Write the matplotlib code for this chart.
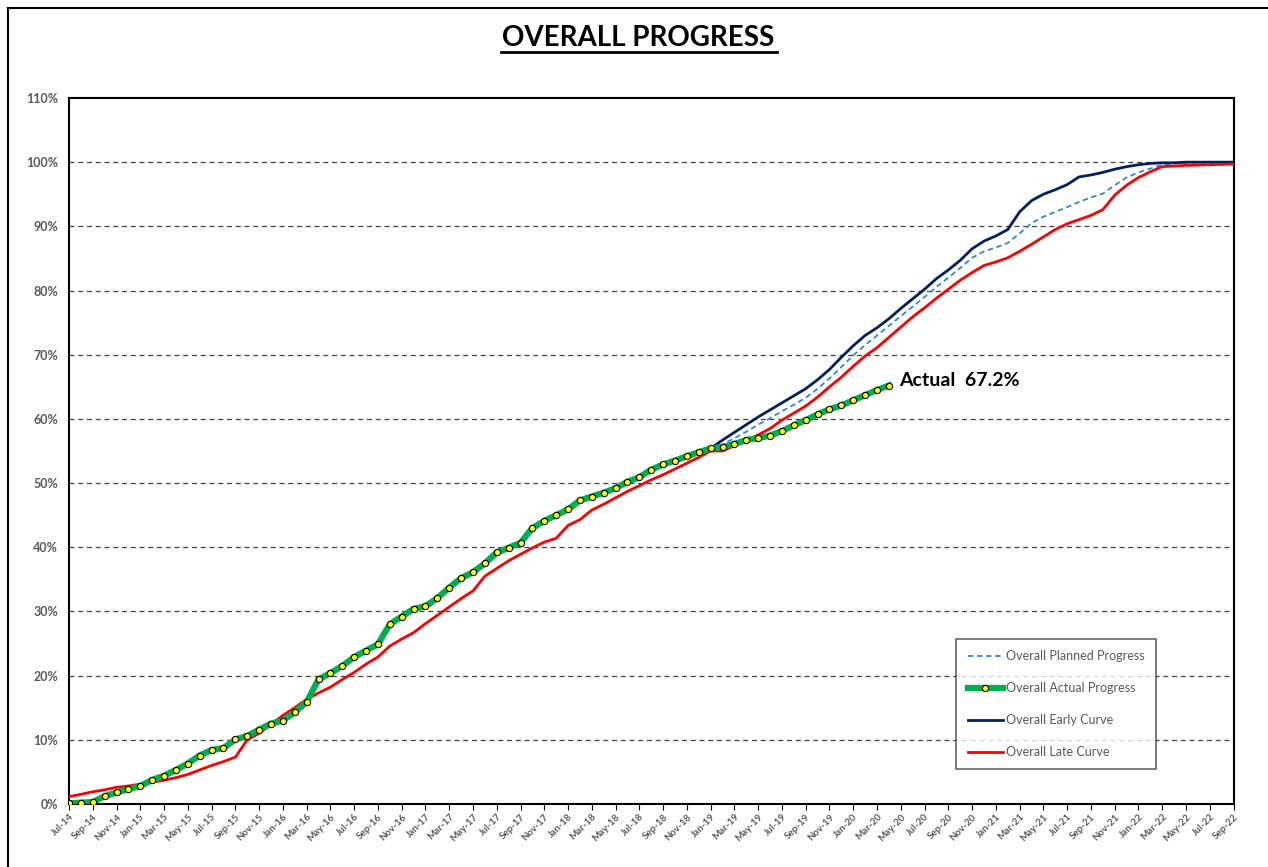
import numpy as np
import pandas as pd
import matplotlib
matplotlib.use("Agg")
import matplotlib.pyplot as plt
from matplotlib.lines import Line2D

plt.rcParams['font.family'] = ['Lato', 'DejaVu Sans']

# monthly axis Jul-14 .. Sep-22
months = pd.date_range("2014-07-01", "2022-09-01", freq="MS")
month_labels = [d.strftime("%b-%y") for d in months]

# overall actual progress (%), Jul-14 .. Apr-20
actual = [0.1, 0.2, 0.3, 1.2, 1.8, 2.3, 2.8, 3.75, 4.4, 5.3,
          6.3, 7.55, 8.4, 8.7, 10.05, 10.6, 11.6, 12.5, 13.0, 14.3,
          15.9, 19.4, 20.4, 21.5, 22.9, 23.9, 24.9, 28.0, 29.2, 30.4,
          30.8, 32.1, 33.7, 35.2, 36.1, 37.5, 39.2, 39.9, 40.7, 43.0,
          44.1, 45.0, 45.9, 47.3, 47.9, 48.5, 49.2, 50.2, 50.9, 52.1,
          52.9, 53.5, 54.2, 54.8, 55.4, 55.6, 56.1, 56.7, 57.0, 57.4,
          58.1, 59.0, 59.8, 60.7, 61.5, 62.1, 62.9, 63.7, 64.5, 65.2]

# late curve (%), Jul-14 .. Sep-22
late = [1.15, 1.5, 1.9, 2.2, 2.6, 2.8, 3.1, 3.4, 3.7, 4.1,
        4.6, 5.3, 6.0, 6.6, 7.3, 10.0, 11.0, 12.4, 13.8, 15.0,
        16.3, 17.3, 18.2, 19.4, 20.5, 21.8, 22.9, 24.6, 25.7, 26.7,
        28.1, 29.4, 30.7, 32.0, 33.2, 35.5, 36.7, 37.9, 38.9, 39.9,
        40.8, 41.4, 43.4, 44.3, 45.8, 46.7, 47.7, 48.7, 49.6, 50.5,
        51.3, 52.2, 53.1, 54.0, 55.0, 55.0, 55.8, 56.6, 57.5, 58.5,
        59.8, 60.9, 62.0, 63.4, 65.0, 66.5, 68.2, 69.8, 71.1, 72.7,
        74.3, 75.9, 77.3, 78.8, 80.2, 81.6, 82.8, 83.9, 84.45, 85.1,
        86.1, 87.2, 88.35, 89.5, 90.4, 91.05, 91.7, 92.6, 94.85, 96.4,
        97.6, 98.5, 99.3, 99.4, 99.5, 99.55, 99.6, 99.65, 99.7]

# early and planned curves (%), Jan-19 .. Sep-22
forecast_start = 54
early = [55.4, 56.7, 57.9, 59.1, 60.3, 61.4, 62.5, 63.6, 64.7, 66.1,
         67.7, 69.6, 71.4, 73.0, 74.2, 75.6, 77.2, 78.7, 80.2, 81.85,
         83.2, 84.7, 86.5, 87.7, 88.5, 89.5, 92.25, 94.0, 95.0, 95.7,
         96.5, 97.7, 98.0, 98.4, 98.9, 99.3, 99.6, 99.8, 99.9, 99.9,
         100.0, 100.0, 100.0, 100.0, 100.0]
planned = [55.4, 56.0, 57.0, 58.0, 59.1, 60.1, 61.2, 62.2, 63.3, 64.7,
           66.3, 68.1, 69.9, 71.5, 73.0, 74.5, 76.0, 77.5, 79.0, 80.55,
           82.0, 83.5, 85.1, 86.1, 86.7, 87.4, 88.9, 90.5, 91.5, 92.25,
           93.0, 93.8, 94.5, 95.1, 96.4, 97.6, 98.4, 99.0, 99.6, 99.8,
           99.9, 99.9, 99.9, 99.9, 99.9]

actual_label = "Actual  67.2%"

x_all = np.arange(len(months))
x_act = x_all[:len(actual)]
x_fc = x_all[forecast_start:forecast_start + len(early)]

fig = plt.figure(figsize=(12.68, 8.67), dpi=100)
ax = fig.add_axes([0.0544, 0.0727, 0.9184, 0.8143])

# outer frame (left and top edges)
fig.add_artist(Line2D([8 / 1268, 8 / 1268], [0, 1 - 8 / 867], transform=fig.transFigure,
                      color="black", lw=1.5))
fig.add_artist(Line2D([8 / 1268, 1], [1 - 8 / 867, 1 - 8 / 867], transform=fig.transFigure,
                      color="black", lw=1.5))

ax.plot(x_fc, planned, color="#2e86d6", lw=1.3, ls=(0, (3, 2)), label="Overall Planned Progress", zorder=3)
ax.plot(x_act, actual, color="#00b050", lw=4.5, marker="o", markersize=4.5,
        markerfacecolor="#ffff00", markeredgecolor="black", markeredgewidth=0.8,
        label="Overall Actual Progress", zorder=5)
ax.plot(x_fc, early, color="#002060", lw=2.0, label="Overall Early Curve", zorder=4)
ax.plot(x_all, late, color="#ff0000", lw=2.0, label="Overall Late Curve", zorder=4)

ax.text(x_act[-1] + 0.9, actual[-1] + 0.8, actual_label, fontsize=14, fontweight="bold",
        va="center", ha="left", color="black")

ax.set_xlim(0, len(months) - 1)
ax.set_ylim(0, 110)
ax.set_yticks(np.arange(0, 111, 10))
ax.set_yticklabels([f"{v}%" for v in range(0, 111, 10)], fontsize=9, color="#595959", fontweight="bold")
ax.set_xticks(x_all[::2])
ax.set_xticklabels(month_labels[::2], rotation=45, ha="right", rotation_mode="anchor",
                   fontsize=7, color="#595959", fontweight="bold")
ax.tick_params(axis="x", length=4, color="black", pad=2)
ax.tick_params(axis="y", length=0, pad=8)

for v in range(10, 110, 10):
    ax.axhline(v, color="#404040", lw=0.9, ls=(0, (4, 3)), zorder=1)

for s in ax.spines.values():
    s.set_linewidth(1.5)
    s.set_color("black")

fig.text(0.503, 0.956, "OVERALL PROGRESS", fontsize=20, fontweight="bold",
         ha="center", va="center", color="black")
fig.add_artist(Line2D([501 / 1268, 777 / 1268], [1 - 52 / 867, 1 - 52 / 867],
                      transform=fig.transFigure, color="black", lw=2))

leg = ax.legend(loc="upper left", bbox_to_anchor=(0.762, 0.234), fontsize=9,
                frameon=True, fancybox=False, edgecolor="#404040", labelspacing=1.6,
                handlelength=2.8, handletextpad=0.3, borderpad=0.9, borderaxespad=0)
leg.get_frame().set_linewidth(1.2)
leg._legend_box.align = "left"
for t in leg.get_texts():
    t.set_color("#595959")

fig.savefig("out.png", dpi=100, facecolor="white")
